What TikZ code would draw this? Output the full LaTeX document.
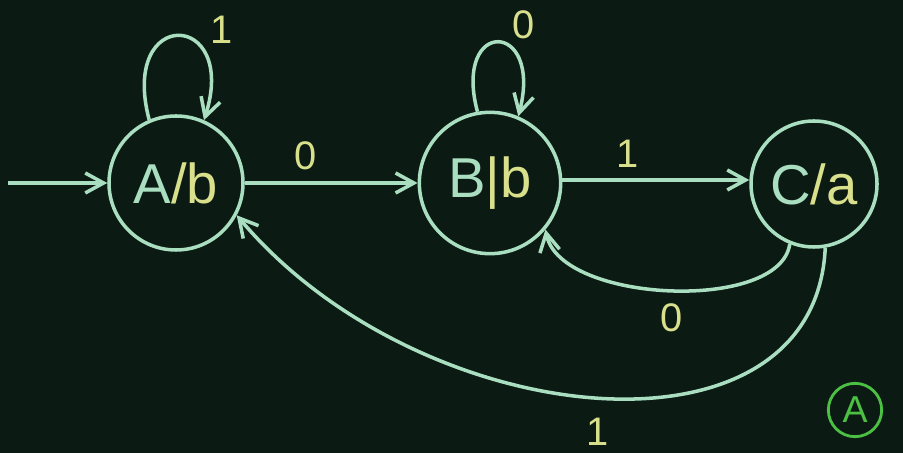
\documentclass[tikz,border=0pt]{standalone}
\usepackage{fontspec}
\setmainfont{Liberation Sans}
\usetikzlibrary{arrows.meta, calc}
\definecolor{cboard}{HTML}{0C1A14}
\definecolor{cmint}{HTML}{A9DFC0}
\definecolor{cyell}{HTML}{D9E08C}
\definecolor{cgreen}{HTML}{4CC043}
\tikzset{
  every picture/.style={line width=3pt},
  state/.style={circle, draw=cmint, text=cmint, inner sep=0pt, minimum size=#1, font=\fontsize{48}{56}\selectfont},
  arrow/.style={-{Straight Barb[length=5.5mm, width=6mm]}, draw=cmint, line width=3pt},
  lab/.style={text=cyell, font=\fontsize{34}{40}\selectfont},
}
\newcommand{\outp}[1]{\textcolor{cyell}{#1}}

\begin{document}
\begin{tikzpicture}[x=0.03cm, y=0.03cm]
  \fill[cboard] (0,0) rectangle (903,453);
  \useasboundingbox (0,0) rectangle (903,453);
  % states
  \node[state=4.02cm] (A) at (176,270) {A\outp{/b}};
  \node[state=4.24cm] (B) at (490,270) {B\outp{|b}};
  \node[state=3.78cm] (C) at (814,269) {C\outp{/a}};
  \coordinate (start) at (8,270);
  % transitions
  \draw[arrow] (start) -- (A);
  \draw[arrow] (A) -- node[lab, above=6pt, pos=0.35] (lAB) {0} (B);
  \draw[arrow] (B.east |- 0,273) -- node[lab, above=6pt, pos=0.35] (lBC) {1} (C.west |- 0,273);
  \draw[arrow] (A.113) .. controls +(-30,114) and +(35,110) .. (A.66);
  \node[lab] (lAA) at (222,423) {1};
  \draw[arrow] (B.100) .. controls +(-25,94) and +(25,97) .. (B.67);
  \node[lab] (lBB) at (524,428) {0};
  \draw[arrow] (C.-112) .. controls (780,140) and (560,150) .. (B.-40);
  \node[lab] (lCB) at (672,135) {0};
  \draw[arrow] (C.-80) .. controls (815,-20) and (420,20) .. (A.-28);
  \node[lab] (lCA) at (598,21) {1};
  % circled mark
  \node[circle, draw=cgreen, text=cgreen, line width=2.4pt, minimum size=1.6cm, inner sep=0pt, font=\fontsize{32}{38}\selectfont] (mark) at (855,43) {A};
\end{tikzpicture}
\end{document}
